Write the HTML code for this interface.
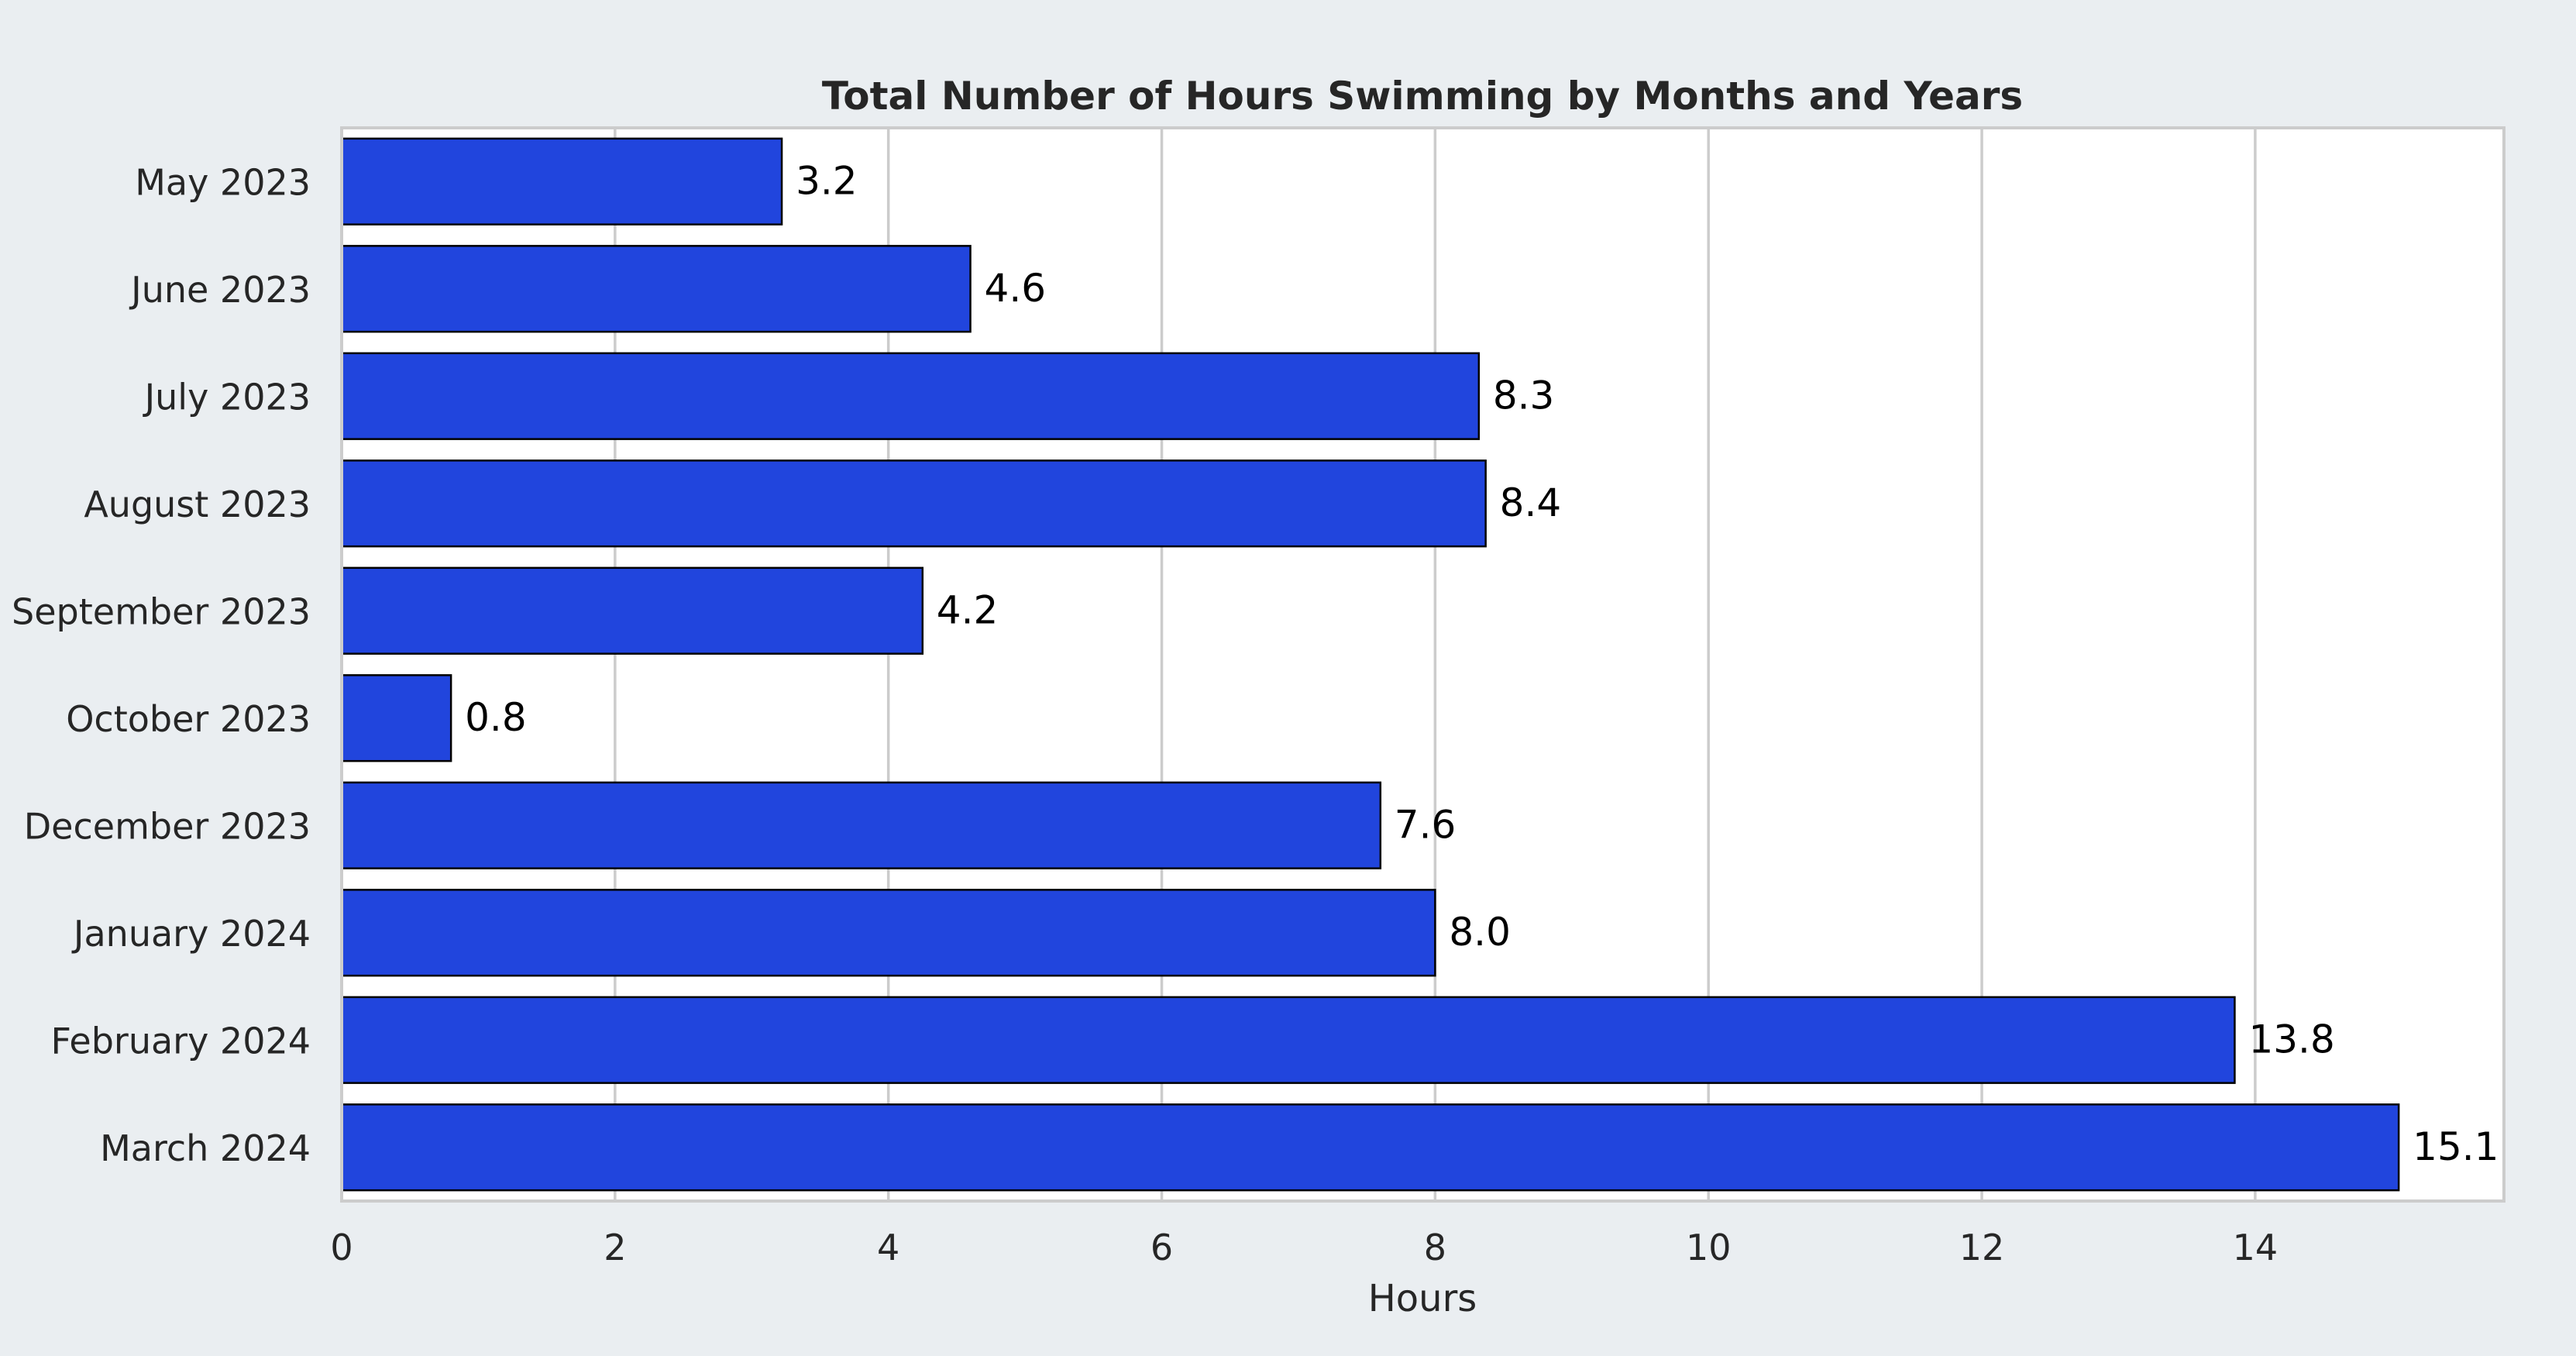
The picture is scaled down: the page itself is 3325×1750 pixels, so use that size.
<!DOCTYPE html>
<html><head><meta charset="utf-8"><style>
html,body{margin:0;padding:0;background:#eaeef1;}
svg{display:block;font-family:"DejaVu Sans","Liberation Sans",sans-serif;}
</style></head><body>
<svg id="chart" width="3325" height="1750" viewBox="0 0 3325 1750" xmlns="http://www.w3.org/2000/svg">
<rect x="0" y="0" width="3325" height="1750" fill="#eaeef1"/>
<rect x="441" y="165" width="2791" height="1385" fill="#ffffff"/>
<g id="grid"></g>
<g id="bars"></g>
<rect x="441" y="165" width="2791" height="1385" fill="none" stroke="#cccccc" stroke-width="4"/>
<g id="ticks"></g>
<text x="1836" y="141" text-anchor="middle" font-size="50" font-weight="bold" fill="#262626">Total Number of Hours Swimming by Months and Years</text>
<text x="1836" y="1692" text-anchor="middle" font-size="48" fill="#262626">Hours</text>
</svg>
<script>
const categories = ["May 2023","June 2023","July 2023","August 2023","September 2023","October 2023","December 2023","January 2024","February 2024","March 2024"];
const hours = [3.22, 4.6, 8.32, 8.37, 4.25, 0.8, 7.6, 8.0, 13.85, 15.05];
const valueLabels = ["3.2","4.6","8.3","8.4","4.2","0.8","7.6","8.0","13.8","15.1"];
const xTicks = [0,2,4,6,8,10,12,14];

const L=441, R=3232, T=165, B=1550, XMAX=15.82;
const NS="http://www.w3.org/2000/svg";
function x(v){return L+(v/XMAX)*(R-L);}
const band=(B-T)/categories.length;
function yc(i){return T+band*(i+0.5);}
function mk(tag,attrs,parent){const e=document.createElementNS(NS,tag);for(const k in attrs)e.setAttribute(k,attrs[k]);parent.appendChild(e);return e;}
const grid=document.getElementById('grid'), bars=document.getElementById('bars'), ticks=document.getElementById('ticks');
xTicks.forEach(t=>{
  if(t>0){const g=mk('line',{x1:x(t),x2:x(t),y1:T,y2:B,stroke:'#cccccc','stroke-width':3.5},grid);
  
  }
  const tl=mk('text',{x:x(t),y:1626,'text-anchor':'middle','font-size':46,fill:'#262626'},ticks);
  tl.textContent=String(t);
  
  
});
categories.forEach((c,i)=>{
  const h=band*0.8;
  const b=mk('rect',{x:x(0),y:yc(i)-h/2,width:x(hours[i])-x(0),height:h,fill:'#2145dd',stroke:'#000000','stroke-width':2.5},bars);
  
  
  const v=mk('text',{x:x(hours[i])+18,y:yc(i)+16,'font-size':50,fill:'#000000'},bars);
  v.textContent=valueLabels[i];
  
  
  const yl=mk('text',{x:401,y:yc(i)+17,'text-anchor':'end','font-size':46,fill:'#262626'},ticks);
  yl.textContent=c;
  
  
});
</script>
</body></html>
